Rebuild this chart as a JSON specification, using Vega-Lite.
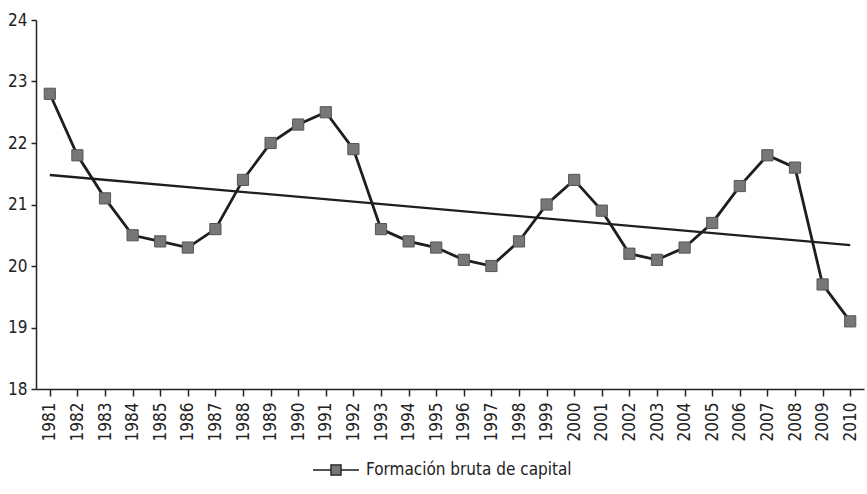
{
  "$schema": "https://vega.github.io/schema/vega-lite/v6.json",
  "autosize": {"type": "none"},
  "width": 828,
  "height": 369,
  "padding": {"left": 36, "top": 20, "right": 3, "bottom": 105},
  "background": "white",
  "config": {
    "font": "'Liberation Sans Narrow', 'DejaVu Sans Condensed', 'Liberation Sans', sans-serif",
    "view": {"stroke": null},
    "axis": {"grid": false, "domainColor": "#222", "tickColor": "#222", "labelColor": "#222", "labelFont": "'Liberation Sans Narrow', 'DejaVu Sans Condensed', 'Liberation Sans', sans-serif", "labelFontSize": 17, "domainWidth": 1.5, "tickWidth": 1.5, "title": null}
  },
  "datasets": {
    "serie": [
      {"year": "1981", "value": 22.8, "serie": "Formación bruta de capital"},
      {"year": "1982", "value": 21.8, "serie": "Formación bruta de capital"},
      {"year": "1983", "value": 21.1, "serie": "Formación bruta de capital"},
      {"year": "1984", "value": 20.5, "serie": "Formación bruta de capital"},
      {"year": "1985", "value": 20.4, "serie": "Formación bruta de capital"},
      {"year": "1986", "value": 20.3, "serie": "Formación bruta de capital"},
      {"year": "1987", "value": 20.6, "serie": "Formación bruta de capital"},
      {"year": "1988", "value": 21.4, "serie": "Formación bruta de capital"},
      {"year": "1989", "value": 22.0, "serie": "Formación bruta de capital"},
      {"year": "1990", "value": 22.3, "serie": "Formación bruta de capital"},
      {"year": "1991", "value": 22.5, "serie": "Formación bruta de capital"},
      {"year": "1992", "value": 21.9, "serie": "Formación bruta de capital"},
      {"year": "1993", "value": 20.6, "serie": "Formación bruta de capital"},
      {"year": "1994", "value": 20.4, "serie": "Formación bruta de capital"},
      {"year": "1995", "value": 20.3, "serie": "Formación bruta de capital"},
      {"year": "1996", "value": 20.1, "serie": "Formación bruta de capital"},
      {"year": "1997", "value": 20.0, "serie": "Formación bruta de capital"},
      {"year": "1998", "value": 20.4, "serie": "Formación bruta de capital"},
      {"year": "1999", "value": 21.0, "serie": "Formación bruta de capital"},
      {"year": "2000", "value": 21.4, "serie": "Formación bruta de capital"},
      {"year": "2001", "value": 20.9, "serie": "Formación bruta de capital"},
      {"year": "2002", "value": 20.2, "serie": "Formación bruta de capital"},
      {"year": "2003", "value": 20.1, "serie": "Formación bruta de capital"},
      {"year": "2004", "value": 20.3, "serie": "Formación bruta de capital"},
      {"year": "2005", "value": 20.7, "serie": "Formación bruta de capital"},
      {"year": "2006", "value": 21.3, "serie": "Formación bruta de capital"},
      {"year": "2007", "value": 21.8, "serie": "Formación bruta de capital"},
      {"year": "2008", "value": 21.6, "serie": "Formación bruta de capital"},
      {"year": "2009", "value": 19.7, "serie": "Formación bruta de capital"},
      {"year": "2010", "value": 19.1, "serie": "Formación bruta de capital"}
    ],
    "trend": [
      {"year": "1981", "value": 21.48},
      {"year": "2010", "value": 20.34}
    ]
  },
  "encoding": {
    "x": {"field": "year", "type": "ordinal", "scale": {"paddingInner": 0, "paddingOuter": 0},
      "axis": {"labelAngle": -90, "labelAlign": "right", "labelBaseline": "middle", "bandPosition": 0, "tickSize": 7, "labelPadding": 6}},
    "y": {"field": "value", "type": "quantitative", "scale": {"domain": [18, 24], "nice": false, "zero": false},
      "axis": {"values": [18, 19, 20, 21, 22, 23, 24], "tickSize": 5, "labelPadding": 4}}
  },
  "layer": [
    {
      "data": {"name": "trend"},
      "mark": {"type": "line", "color": "#1e1e1e", "strokeWidth": 2.3}
    },
    {
      "data": {"name": "serie"},
      "mark": {"type": "line", "strokeWidth": 2.8},
      "encoding": {
        "color": {"field": "serie", "type": "nominal", "scale": {"range": ["#1e1e1e"]},
          "legend": {"orient": "none", "legendX": 276, "legendY": 426, "direction": "horizontal", "title": null, "labelFontSize": 17, "labelLimit": 400, "labelFont": "'Liberation Sans Narrow', 'DejaVu Sans Condensed', 'Liberation Sans', sans-serif", "labelColor": "#222",
            "symbolType": "M-1,0H-0.22M0.22,0H1M-0.22,-0.22H0.22V0.22H-0.22Z", "symbolSize": 2116, "labelOffset": 6,
            "encode": {"symbols": {"update": {"fill": {"value": "#777777"}, "stroke": {"value": "#1e1e1e"}, "strokeWidth": {"value": 1.3}, "opacity": {"value": 1}}}}}}
      }
    },
    {
      "data": {"name": "serie"},
      "mark": {"type": "point", "shape": "square", "filled": true, "size": 125, "fill": "#777777", "stroke": "#555555", "strokeWidth": 1, "opacity": 1}
    }
  ]
}
